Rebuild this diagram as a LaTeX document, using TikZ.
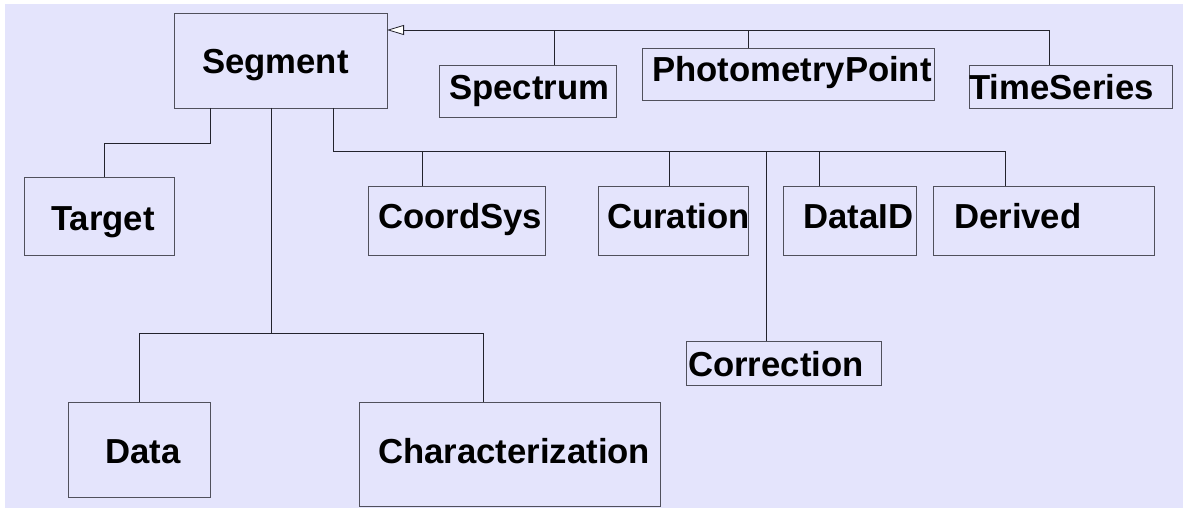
\documentclass[tikz,border=0pt]{standalone}
\usepackage{fontspec}
\setmainfont{Liberation Sans}
\usetikzlibrary{arrows.meta,calc}
\definecolor{bgc}{RGB}{228,228,252}
\definecolor{boxc}{RGB}{80,80,92}
\definecolor{linec}{RGB}{35,35,45}
\tikzset{
  box/.style={draw=boxc, line width=0.9pt, inner sep=0pt, outer sep=0pt, anchor=north west, rectangle},
  lbl/.style={inner sep=0pt, anchor=base west, font=\fontsize{34.7}{40}\selectfont\bfseries},
  conn/.style={draw=linec, line width=0.9pt},
  inh/.style={conn, -{Triangle[length=17pt,width=10pt,fill=white,line width=0.8pt]}}
}
\begin{document}
\begin{tikzpicture}[x=1pt,y=-1pt]
\useasboundingbox (0,0) rectangle (1183,508);
\fill[bgc] (5,4) rectangle (1183,508);

% boxes
\node[box, minimum width=213pt, minimum height=95pt] (seg) at (174,13) {};
\node[box, minimum width=177pt, minimum height=52pt] (spec) at (439,65) {};
\node[box, minimum width=292pt, minimum height=52pt] (pp) at (642,48) {};
\node[box, minimum width=203pt, minimum height=43pt] (ts) at (969,65) {};
\node[box, minimum width=150pt, minimum height=78pt] (tgt) at (24,177) {};
\node[box, minimum width=177pt, minimum height=69pt] (cs) at (368,186) {};
\node[box, minimum width=150pt, minimum height=69pt] (cur) at (598,186) {};
\node[box, minimum width=133pt, minimum height=69pt] (did) at (783,186) {};
\node[box, minimum width=221pt, minimum height=69pt] (der) at (933,186) {};
\node[box, minimum width=195pt, minimum height=44pt] (cor) at (686,341) {};
\node[box, minimum width=142pt, minimum height=95pt] (dat) at (68,402) {};
\node[box, minimum width=301pt, minimum height=104pt] (chr) at (359,402) {};

% labels
\node[lbl] (segT) at (202,74) {Segment};
\node[lbl] (specT) at (449,100) {Spectrum};
\node[lbl] (ppT) at (652,82) {PhotometryPoint};
\node[lbl] (tsT) at (969,100) {TimeSeries};
\node[lbl] (tgtT) at (51,230) {Target};
\node[lbl] (csT) at (378,228) {CoordSys};
\node[lbl] (curT) at (607,228) {Curation};
\node[lbl] (didT) at (803,228) {DataID};
\node[lbl] (derT) at (954,228) {Derived};
\node[lbl] (corT) at (688,376) {Correction};
\node[lbl] (datT) at (105,463) {Data};
\node[lbl] (chrT) at (378,463) {Characterization};

% inheritance
\coordinate (bus) at ([yshift=-17pt]seg.north east);
\coordinate (tsTop) at ([xshift=80pt]ts.north west);
\coordinate (ppTop) at ([xshift=106pt]pp.north west);
\coordinate (specTop) at ([xshift=115pt]spec.north west);
\draw[inh] (tsTop) |- (bus);
\draw[conn] (ppTop) -- (ppTop |- bus);
\draw[conn] (specTop) -- (specTop |- bus);

% Segment -> Target
\coordinate (tgtTop) at ([xshift=80pt]tgt.north west);
\draw[conn] ([xshift=36pt]seg.south west) -- ++(0,35) -| (tgtTop);

% Segment -> Data / Characterization
\coordinate (datTop) at ([xshift=71pt]dat.north west);
\coordinate (chrTop) at ([xshift=124pt]chr.north west);
\draw[conn] ([xshift=97pt]seg.south west) -- ++(0,225) coordinate (j1);
\draw[conn] (j1) -| (datTop);
\draw[conn] (j1) -| (chrTop);

% Segment -> right group
\coordinate (csTop) at ([xshift=54pt]cs.north west);
\coordinate (curTop) at ([xshift=71pt]cur.north west);
\coordinate (corTop) at ([xshift=80pt]cor.north west);
\coordinate (didTop) at ([xshift=36pt]did.north west);
\coordinate (derTop) at ([xshift=72pt]der.north west);
\draw[conn] ([xshift=159pt]seg.south west) -- ++(0,43) coordinate (j2) -| (derTop);
\draw[conn] (csTop) -- (csTop |- j2);
\draw[conn] (curTop) -- (curTop |- j2);
\draw[conn] (corTop) -- (corTop |- j2);
\draw[conn] (didTop) -- (didTop |- j2);
\end{tikzpicture}
\end{document}
